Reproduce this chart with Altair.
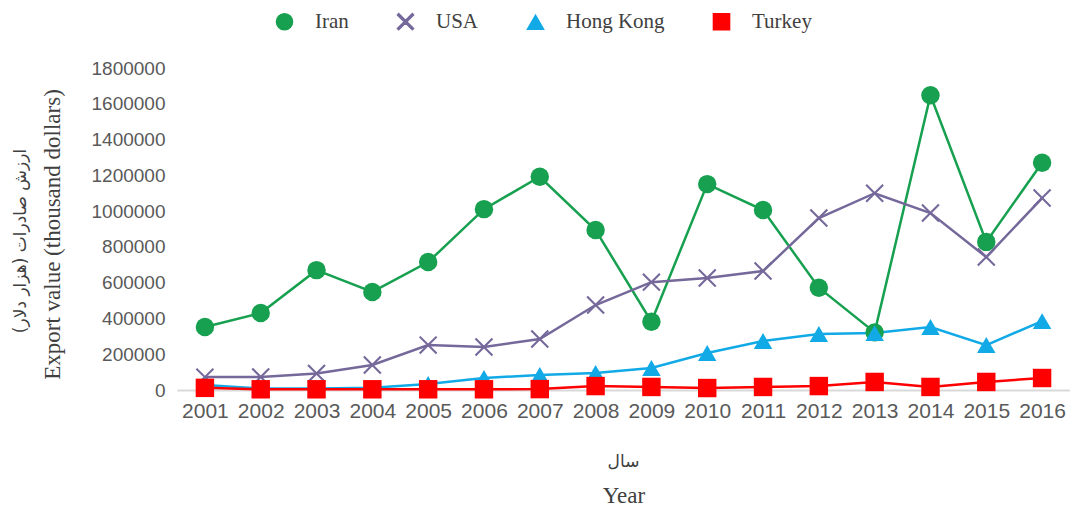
import altair as alt
import pandas as pd

years = [str(y) for y in range(2001, 2017)]
series = ["Iran", "USA", "Hong Kong", "Turkey"]
iran = [352000, 430000, 670000, 548000, 715000, 1011000, 1192000, 894000,
        382000, 1151000, 1006000, 572000, 322000, 1648000, 828000, 1270000]
usa = [72000, 73000, 92000, 140000, 251000, 240000, 285000, 475000,
       603000, 626000, 665000, 961000, 1100000, 989000, 743000, 1073000]
hong_kong = [28000, 8000, 8000, 13000, 33000, 67000, 84000, 95000,
             123000, 207000, 274000, 313000, 318000, 352000, 251000, 385000]
turkey = [12000, 4000, 4000, 4000, 4000, 4000, 5000, 22000,
          17000, 11000, 17000, 22000, 45000, 17000, 45000, 67000]

y_title_fa = "ارزش صادرات (هزار دلار)"
y_title_en = "Export value (thousand dollars)"
x_title_fa = "سال"
x_title_en = "Year"

rows = []
for name, vals in zip(series, [iran, usa, hong_kong, turkey]):
    for yr, v in zip(years, vals):
        rows.append({"Year": yr, "Country": name, "Value": v})
df = pd.DataFrame(rows)

W, H = 893, 322

colors = ["#16a04f", "#75689a", "#12aae6", "#ff0000"]
x_shape = ("M-1,-0.84L-0.84,-1L0,-0.16L0.84,-1L1,-0.84L0.16,0L1,0.84"
           "L0.84,1L0,0.16L-0.84,1L-1,0.84L-0.16,0Z")
shapes = ["circle", x_shape, "triangle-up", "square"]

x_enc = alt.X("Year:O", sort=years,
              axis=alt.Axis(title=x_title_en, labelAngle=0, ticks=False,
                            domainColor="#d9d9d9", domainWidth=2,
                            labelFont="Liberation Sans", labelFontSize=21,
                            labelColor="#595959", labelPadding=10,
                            titleFont="Liberation Serif", titleFontSize=23,
                            titleFontWeight="normal", titleColor="#404040",
                            titleY=105, titleBaseline="middle"))
y_enc = alt.Y("Value:Q",
              scale=alt.Scale(domain=[0, 1800000], nice=False),
              axis=alt.Axis(title=y_title_en, values=list(range(0, 1800001, 200000)),
                            format="d", grid=False, domain=False, ticks=False,
                            labelFont="Liberation Sans", labelFontSize=19,
                            labelColor="#595959", labelPadding=12,
                            titleFont="Liberation Serif", titleFontSize=23,
                            titleFontWeight="normal", titleColor="#404040",
                            titleX=-125, titleY=H / 2 + 5, titleAngle=270,
                            titleAlign="center", titleBaseline="middle"))

color_enc = alt.Color("Country:N", scale=alt.Scale(domain=series, range=colors),
                      legend=alt.Legend(title="", orient="none",
                                        legendX=97, legendY=-57,
                                        direction="horizontal",
                                        labelFont="Liberation Serif",
                                        labelFontSize=21, labelColor="#404040",
                                        labelOffset=20, columnPadding=45,
                                        symbolSize=260))

base = alt.Chart(df)

lines = base.mark_line(strokeWidth=2.5).encode(
    x=x_enc, y=y_enc, color=color_enc,
)

points = base.mark_point(filled=True, opacity=1, size=340).encode(
    x=x_enc, y=y_enc, color=color_enc,
    shape=alt.Shape("Country:N", scale=alt.Scale(domain=series, range=shapes)),
)

fa_y = alt.Chart(pd.DataFrame({"t": [y_title_fa]})).mark_text(
    angle=270, font="DejaVu Sans", fontSize=17, color="#404040",
    align="center", baseline="middle"
).encode(text="t:N", x=alt.value(-156), y=alt.value(H / 2 + 12))

fa_x = alt.Chart(pd.DataFrame({"t": [x_title_fa]})).mark_text(
    font="DejaVu Sans", fontSize=17, color="#404040",
    align="center", baseline="middle"
).encode(text="t:N", x=alt.value(W / 2), y=alt.value(H + 72))

chart = alt.layer(lines, points, fa_y, fa_x).properties(
    width=W, height=H,
    padding={"left": 4, "top": 3, "right": 0, "bottom": 4},
).configure_view(stroke=None).configure_scale(bandPaddingInner=0)

chart.save("out.html", embed_options={"renderer": "svg", "actions": False})
